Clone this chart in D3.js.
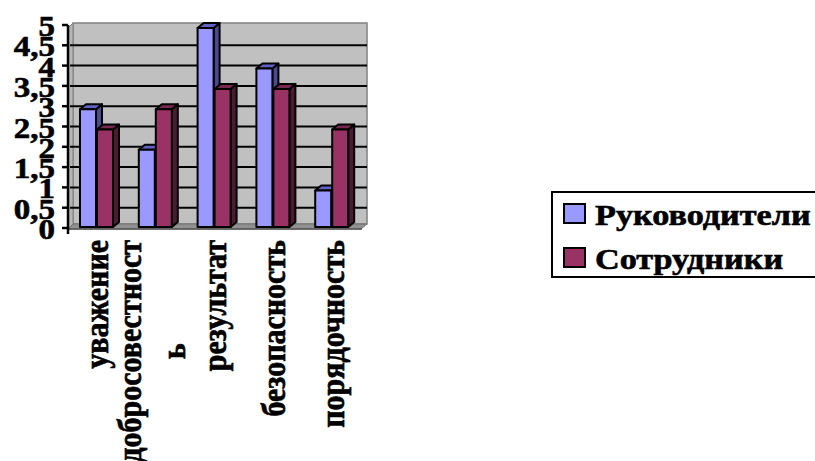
<!DOCTYPE html>
<html>
<head>
<meta charset="utf-8">
<script src="https://cdn.jsdelivr.net/npm/d3@7"></script>
<style>
  html, body { margin: 0; padding: 0; background: #fff; }
</style>
</head>
<body>
<svg id="chart" width="815" height="461"></svg>
<script>
// ---- data ----
const categories = ["уважение", "добросовестность", "результат", "безопасность", "порядочность"];
const seriesNames = ["Руководители", "Сотрудники"];
const leaders = [3, 2, 5, 4, 1];
const staff = [2.5, 3, 3.5, 3.5, 2.5];
const yTicks = [0, 0.5, 1, 1.5, 2, 2.5, 3, 3.5, 4, 4.5, 5];
const yTickLabels = ["0", "0,5", "1", "1,5", "2", "2,5", "3", "3,5", "4", "4,5", "5"];

// ---- styling ----
const seriesStyle = [
  { front: "#9999ff", top: "#6161c4", side: "#4a4a8c" },
  { front: "#993366", top: "#76284f", side: "#4d1a33" }
];
const FONT = 30;
const FAMILY = "'Liberation Serif', 'Times New Roman', serif";

const svg = d3.select("#chart");
const y = d3.scaleLinear().domain([0, 5]).range([228, 25]);
const x = d3.scaleBand().domain(categories).range([68, 362]);
const dx = 6, dy = 5;               // 3-D depth offset
const barW = 16, barGap = 1, barOffset = 12;
const floorY = 227;

// heavy bold serif text
function label(sel) {
  return sel.attr("font-family", FAMILY).attr("font-weight", "bold")
    .attr("font-size", FONT).attr("fill", "#000")
    .attr("stroke", "#000").attr("stroke-width", 0.6);
}

// back wall
const wallL = 73, wallR = 367, wallT = y(5) - 2, wallB = floorY - 3;
svg.append("rect")
  .attr("x", wallL).attr("y", wallT)
  .attr("width", wallR - wallL).attr("height", wallB - wallT)
  .attr("fill", "#c0c0c0").attr("stroke", "#808080").attr("stroke-width", 1.5);

// side wall
svg.append("polygon")
  .attr("points", [[68, wallT + dy], [wallL, wallT], [wallL, wallB], [68, wallB + dy]].join(" "))
  .attr("fill", "#b4b4b4").attr("stroke", "#808080").attr("stroke-width", 1);

// floor
svg.append("polygon")
  .attr("points", [[68, wallB + dy], [wallL, wallB], [wallR, wallB], [wallR - dx, wallB + dy]].join(" "))
  .attr("fill", "#909090").attr("stroke", "#707070").attr("stroke-width", 1);

// gridlines on the back wall
svg.append("g").selectAll("line")
  .data(yTicks.filter(v => v > 0 && v < 5))
  .join("line")
  .attr("x1", 70).attr("x2", wallR)
  .attr("y1", d => y(d)).attr("y2", d => y(d))
  .attr("stroke", "#000").attr("stroke-width", 2);

// bars
const series = [leaders, staff];
categories.forEach((c, ci) => {
  series.forEach((vals, si) => {
    const v = vals[ci];
    const st = seriesStyle[si];
    const x0 = x(c) + barOffset + si * (barW + barGap);
    const x1 = x0 + barW;
    const top = y(v) + 3;
    const g = svg.append("g")
      .attr("stroke", "#000").attr("stroke-width", 2).attr("stroke-linejoin", "round");
    g.append("polygon")
      .attr("points", [[x1, top], [x1 + dx, top - dy], [x1 + dx, floorY - dy], [x1, floorY]].join(" "))
      .attr("fill", st.side);
    g.append("polygon")
      .attr("points", [[x0, top], [x0 + dx, top - dy], [x1 + dx, top - dy], [x1, top]].join(" "))
      .attr("fill", st.top);
    g.append("rect")
      .attr("x", x0).attr("y", top)
      .attr("width", barW).attr("height", floorY - top)
      .attr("fill", st.front);
  });
});

// category axis line
svg.append("line")
  .attr("x1", 68).attr("x2", 362).attr("y1", 229).attr("y2", 229)
  .attr("stroke", "#555").attr("stroke-width", 1.5);

// value axis
const axis = svg.append("g");
axis.append("line")
  .attr("x1", 68).attr("x2", 68).attr("y1", y(5)).attr("y2", 234)
  .attr("stroke", "#000").attr("stroke-width", 2.5);
axis.selectAll("line.tick")
  .data(yTicks)
  .join("line").attr("class", "tick")
  .attr("x1", 62).attr("x2", 68)
  .attr("y1", d => y(d)).attr("y2", d => y(d))
  .attr("stroke", "#000").attr("stroke-width", 2.5);
axis.selectAll("text")
  .data(yTicks)
  .join("text")
  .call(label)
  .attr("text-anchor", "end")
  .attr("transform", d => `translate(55,${y(d) + 11}) scale(1.1,1)`)
  .text((d, i) => yTickLabels[i]);

// category labels, rotated; long words wrap by character
const maxLine = 230;
const labelTop = 240;
const measure = svg.append("text").call(label).attr("visibility", "hidden");
function wrapWord(word) {
  const lines = [];
  let cur = "";
  for (const ch of word) {
    measure.text(cur + ch);
    if (cur && measure.node().getComputedTextLength() > maxLine) {
      lines.push(cur);
      cur = ch;
    } else {
      cur += ch;
    }
  }
  if (cur) lines.push(cur);
  return lines;
}
const lineStep = 44;
categories.forEach(c => {
  const lines = wrapWord(c);
  const widths = lines.map(l => { measure.text(l); return measure.node().getComputedTextLength(); });
  const maxW = d3.max(widths);
  const cx = x(c) + x.bandwidth() / 2;
  const cy = labelTop + maxW / 2;
  const first = cx + 11 - (lines.length - 1) * lineStep / 2 - (lines.length > 1 ? 4 : 0);
  lines.forEach((l, li) => {
    const bx = first + li * lineStep;
    svg.append("text")
      .call(label)
      .attr("text-anchor", "middle")
      .attr("transform", `translate(${bx},${cy}) scale(1.12,1) rotate(-90)`)
      .text(l);
  });
});
measure.remove();

// legend
const legend = svg.append("g");
legend.append("rect")
  .attr("x", 552).attr("y", 192).attr("width", 280).attr("height", 85)
  .attr("fill", "#fff").attr("stroke", "#000").attr("stroke-width", 2);
seriesNames.forEach((name, i) => {
  const ly = 204 + i * 44;
  legend.append("rect")
    .attr("x", 564).attr("y", ly).attr("width", 21).attr("height", 19)
    .attr("fill", seriesStyle[i].front).attr("stroke", "#000").attr("stroke-width", 2);
  legend.append("text")
    .call(label)
    .attr("transform", `translate(595,${ly + 21}) scale(1.14,1)`)
    .text(name);
});
</script>
</body>
</html>
